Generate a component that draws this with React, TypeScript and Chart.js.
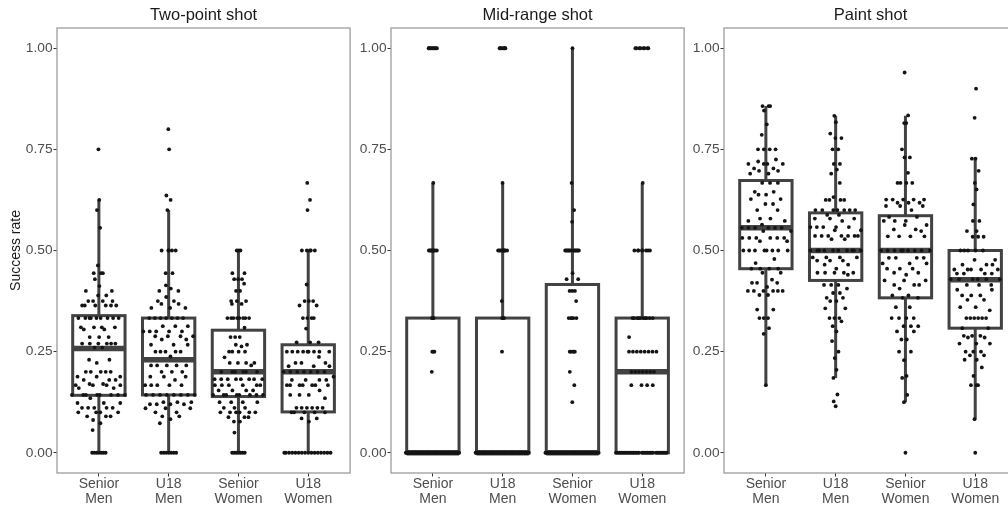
import React, { useEffect, useRef } from "react";
import { Chart, registerables } from "chart.js";

Chart.register(...registerables);

// ---------- text ----------
const categories: string[][] = [
  ["Senior", "Men"],
  ["U18", "Men"],
  ["Senior", "Women"],
  ["U18", "Women"],
];
const panelTitles = ["Two-point shot", "Mid-range shot", "Paint shot"];
const yAxisTitle = "Success rate";
const yTicks = [0, 0.25, 0.5, 0.75, 1];

// ---------- observations: [success rate, number of players] ----------
const twoPointSeniorMen: [number, number][] = [
  [0.75, 1], [0.625, 1], [0.6, 1], [0.556, 1], [0.463, 1], [0.444, 3], [0.429, 1], [0.412, 1],
  [0.4, 2], [0.389, 2], [0.375, 4], [0.364, 6], [0.333, 9], [0.31, 4], [0.305, 2], [0.286, 3],
  [0.27, 6], [0.26, 2], [0.23, 2], [0.222, 1], [0.2, 5], [0.188, 3], [0.18, 3], [0.17, 2],
  [0.167, 4], [0.16, 2], [0.143, 8], [0.135, 1], [0.123, 3], [0.111, 5], [0.1, 4], [0.09, 3],
  [0.081, 1], [0.073, 1], [0.056, 1], [0, 7],
];
const twoPointU18Men: [number, number][] = [
  [0.8, 1], [0.75, 1], [0.636, 1], [0.625, 1], [0.6, 1], [0.5, 5], [0.444, 2], [0.414, 1],
  [0.406, 1], [0.4, 2], [0.385, 1], [0.375, 2], [0.368, 2], [0.358, 3], [0.333, 7], [0.313, 3],
  [0.3, 5], [0.288, 4], [0.28, 2], [0.267, 3], [0.25, 5], [0.238, 1], [0.216, 5], [0.2, 3],
  [0.188, 3], [0.18, 1], [0.167, 5], [0.143, 8], [0.125, 3], [0.12, 4], [0.11, 3], [0.1, 2],
  [0.09, 2], [0.083, 1], [0.073, 1], [0, 7],
];
const twoPointSeniorWomen: [number, number][] = [
  [0.5, 3], [0.444, 2], [0.429, 3], [0.418, 1], [0.4, 2], [0.375, 3], [0.368, 2], [0.333, 8],
  [0.309, 1], [0.286, 3], [0.267, 2], [0.263, 1], [0.25, 4], [0.236, 1], [0.222, 4], [0.216, 1],
  [0.2, 6], [0.182, 8], [0.167, 6], [0.154, 4], [0.143, 8], [0.125, 4], [0.111, 3], [0.1, 6],
  [0.088, 3], [0.077, 2], [0.05, 1], [0, 7],
];
const twoPointU18Women: [number, number][] = [
  [0.667, 1], [0.625, 1], [0.6, 1], [0.5, 5], [0.416, 1], [0.375, 3], [0.364, 2], [0.333, 4],
  [0.307, 1], [0.273, 3], [0.25, 9], [0.237, 1], [0.222, 3], [0.214, 3], [0.2, 7], [0.188, 1],
  [0.18, 4], [0.167, 7], [0.154, 1], [0.143, 3], [0.135, 1], [0.111, 6], [0.1, 5], [0.085, 2],
  [0.077, 1], [0, 16],
];

const midSeniorMen: [number, number][] = [
  [1, 9], [0.667, 1], [0.5, 8], [0.333, 3], [0.25, 3], [0.2, 1], [0, 55],
];
const midU18Men: [number, number][] = [
  [1, 7], [0.667, 1], [0.5, 9], [0.375, 1], [0.333, 3], [0.25, 1], [0, 55],
];
const midSeniorWomen: [number, number][] = [
  [1, 1], [0.667, 1], [0.6, 1], [0.571, 1], [0.5, 12], [0.444, 1], [0.429, 2], [0.4, 3],
  [0.375, 1], [0.333, 5], [0.25, 5], [0.2, 1], [0.167, 1], [0.125, 1], [0, 45],
];
const midU18Women: [number, number][] = [
  [1, 8], [0.667, 1], [0.5, 8], [0.333, 10], [0.286, 1], [0.25, 8], [0.2, 7], [0.167, 4], [0, 28],
];

const paintSeniorMen: [number, number][] = [
  [0.857, 3], [0.846, 1], [0.812, 1], [0.786, 1], [0.75, 4], [0.725, 1], [0.72, 1], [0.714, 4],
  [0.703, 2], [0.697, 2], [0.69, 2], [0.667, 3], [0.645, 2], [0.638, 2], [0.627, 2], [0.615, 2],
  [0.6, 2], [0.579, 2], [0.573, 2], [0.564, 1], [0.556, 6], [0.548, 2], [0.531, 6], [0.523, 2],
  [0.5, 8], [0.479, 1], [0.469, 1], [0.455, 4], [0.445, 2], [0.428, 1], [0.42, 3], [0.41, 1],
  [0.4, 6], [0.39, 2], [0.354, 2], [0.333, 3], [0.308, 1], [0.294, 1], [0.167, 1],
];
const paintU18Men: [number, number][] = [
  [0.833, 1], [0.817, 1], [0.789, 1], [0.778, 2], [0.75, 2], [0.714, 2], [0.7, 1], [0.69, 1],
  [0.667, 1], [0.632, 1], [0.625, 4], [0.6, 7], [0.588, 2], [0.579, 3], [0.573, 1], [0.558, 5],
  [0.55, 2], [0.536, 7], [0.528, 2], [0.5, 10], [0.483, 4], [0.475, 3], [0.465, 2], [0.455, 1],
  [0.445, 5], [0.44, 1], [0.415, 3], [0.406, 1], [0.395, 2], [0.383, 2], [0.375, 2], [0.357, 2],
  [0.333, 3], [0.325, 1], [0.313, 1], [0.3, 1], [0.276, 1], [0.25, 1], [0.234, 1], [0.205, 1],
  [0.185, 1], [0.144, 1], [0.127, 1], [0.115, 1],
];
const paintSeniorWomen: [number, number][] = [
  [0.94, 1], [0.834, 1], [0.815, 2], [0.75, 1], [0.73, 2], [0.692, 1], [0.667, 4], [0.626, 5],
  [0.618, 3], [0.61, 3], [0.6, 1], [0.583, 2], [0.573, 3], [0.563, 2], [0.552, 2], [0.548, 1],
  [0.535, 4], [0.5, 9], [0.482, 4], [0.468, 3], [0.455, 3], [0.445, 2], [0.44, 1], [0.426, 3],
  [0.415, 3], [0.406, 1], [0.389, 2], [0.383, 2], [0.36, 2], [0.333, 4], [0.313, 3], [0.3, 2],
  [0.28, 2], [0.25, 2], [0.229, 1], [0.19, 1], [0.185, 1], [0.143, 1], [0.125, 1], [0, 1],
];
const paintU18Women: [number, number][] = [
  [0.9, 1], [0.828, 1], [0.727, 2], [0.697, 1], [0.667, 1], [0.651, 1], [0.614, 1], [0.573, 2],
  [0.548, 2], [0.534, 3], [0.5, 5], [0.477, 2], [0.465, 3], [0.453, 5], [0.443, 4], [0.429, 6],
  [0.415, 3], [0.403, 2], [0.389, 3], [0.378, 2], [0.36, 2], [0.352, 1], [0.333, 6], [0.308, 2],
  [0.289, 3], [0.285, 2], [0.27, 3], [0.25, 3], [0.241, 2], [0.23, 2], [0.211, 1], [0.19, 1],
  [0.167, 3], [0.083, 1], [0, 1],
];

// ---------- box statistics (Senior Men, U18 Men, Senior Women, U18 Women) ----------
const twoPointQ1 = [0.142, 0.143, 0.139, 0.101];
const twoPointMedian = [0.258, 0.23, 0.2, 0.2];
const twoPointQ3 = [0.339, 0.333, 0.303, 0.267];
const twoPointLow = [0, 0, 0, 0];
const twoPointHigh = [0.625, 0.6, 0.5, 0.5];

const midQ1 = [0, 0, 0, 0];
const midMedian = [0, 0, 0, 0.2];
const midQ3 = [0.333, 0.333, 0.416, 0.333];
const midLow = [0, 0, 0, 0];
const midHigh = [0.667, 0.667, 1, 0.667];

const paintQ1 = [0.455, 0.426, 0.383, 0.308];
const paintMedian = [0.556, 0.5, 0.5, 0.428];
const paintQ3 = [0.673, 0.593, 0.586, 0.5];
const paintLow = [0.167, 0.185, 0.125, 0.083];
const paintHigh = [0.857, 0.833, 0.833, 0.727];

const panels = [
  {
    groups: [twoPointSeniorMen, twoPointU18Men, twoPointSeniorWomen, twoPointU18Women],
    stats: { q1: twoPointQ1, med: twoPointMedian, q3: twoPointQ3, lo: twoPointLow, hi: twoPointHigh },
  },
  {
    groups: [midSeniorMen, midU18Men, midSeniorWomen, midU18Women],
    stats: { q1: midQ1, med: midMedian, q3: midQ3, lo: midLow, hi: midHigh },
  },
  {
    groups: [paintSeniorMen, paintU18Men, paintSeniorWomen, paintU18Women],
    stats: { q1: paintQ1, med: paintMedian, q3: paintQ3, lo: paintLow, hi: paintHigh },
  },
];

// ---------- quasirandom (beeswarm-like) horizontal layout ----------
function vdc(n: number) {
  let v = 0;
  let denom = 1;
  while (n > 0) {
    denom *= 2;
    v += (n % 2) / denom;
    n = Math.floor(n / 2);
  }
  return v;
}
function quantile(s: number[], p: number) {
  const h = (s.length - 1) * p;
  const lo = Math.floor(h);
  const hi = Math.ceil(h);
  return s[lo] + (h - lo) * (s[hi] - s[lo]);
}
function layoutGroup(pairs: [number, number][], center: number, halfWidth: number, adjust: number) {
  const s: number[] = [];
  pairs.forEach(([v, c]) => {
    for (let i = 0; i < c; i++) s.push(v);
  });
  s.sort((a, b) => a - b);
  const n = s.length;
  const mean = s.reduce((a, b) => a + b, 0) / n;
  const sd = Math.sqrt(s.reduce((a, b) => a + (b - mean) * (b - mean), 0) / (n - 1));
  const iqr = quantile(s, 0.75) - quantile(s, 0.25);
  let spread = Math.min(sd, iqr / 1.34);
  if (!(spread > 0)) spread = sd > 0 ? sd : 1;
  const bw = 0.9 * spread * Math.pow(n, -0.2) * adjust;
  const dens = s.map((y) => s.reduce((acc, v) => acc + Math.exp(-0.5 * ((y - v) / bw) ** 2), 0));
  const maxD = Math.max(...dens);
  return s.map((y, i) => ({ x: center + (vdc(i + 1) - 0.5) * 2 * halfWidth * (dens[i] / maxD), y }));
}

const FONT = "'Liberation Sans', Arial, Helvetica, sans-serif";

const boxPlugin = {
  id: "boxplot",
  beforeDatasetsDraw(chart: any, _args: any, opts: any) {
    const { ctx, scales } = chart;
    const x = scales.x;
    const y = scales.y;
    ctx.save();
    ctx.strokeStyle = "#424242";
    ctx.lineCap = "butt";
    ctx.lineJoin = "miter";
    for (let i = 0; i < 4; i++) {
      const c = i + 1;
      const cx = x.getPixelForValue(c);
      const xl = x.getPixelForValue(c - 0.375);
      const xr = x.getPixelForValue(c + 0.375);
      const yq1 = y.getPixelForValue(opts.q1[i]);
      const yq3 = y.getPixelForValue(opts.q3[i]);
      const ymed = y.getPixelForValue(opts.med[i]);
      const ylo = y.getPixelForValue(opts.lo[i]);
      const yhi = y.getPixelForValue(opts.hi[i]);
      ctx.lineWidth = 3;
      ctx.beginPath();
      ctx.moveTo(cx, yhi);
      ctx.lineTo(cx, yq3);
      ctx.moveTo(cx, yq1);
      ctx.lineTo(cx, ylo);
      ctx.stroke();
      ctx.fillStyle = "#ffffff";
      ctx.fillRect(xl, yq3, xr - xl, yq1 - yq3);
      ctx.strokeRect(xl, yq3, xr - xl, yq1 - yq3);
      ctx.lineWidth = 5.5;
      ctx.beginPath();
      ctx.moveTo(xl, ymed);
      ctx.lineTo(xr, ymed);
      ctx.stroke();
    }
    ctx.restore();
  },
  afterDraw(chart: any) {
    const { ctx, chartArea: a } = chart;
    ctx.save();
    ctx.strokeStyle = "#9c9c9c";
    ctx.lineWidth = 1.3;
    ctx.strokeRect(a.left, a.top, a.right - a.left, a.bottom - a.top);
    ctx.restore();
  },
};

function makeConfig(idx: number, yWidth: number): any {
  const panel = panels[idx];
  const points = panel.groups.flatMap((g, gi) => layoutGroup(g, gi + 1, 0.4, 0.5));
  return {
    type: "scatter",
    data: {
      datasets: [
        {
          data: points,
          pointRadius: 1.9,
          pointHoverRadius: 1.9,
          backgroundColor: "#141414",
          borderWidth: 0,
        },
      ],
    },
    options: {
      responsive: false,
      animation: false,
      events: [],
      layout: { padding: { top: 2.2, right: 1, left: 0, bottom: 0 } },
      plugins: {
        legend: { display: false },
        tooltip: { enabled: false },
        title: {
          display: true,
          text: panelTitles[idx],
          fullSize: false,
          color: "#1a1a1a",
          font: { family: FONT, size: 16.5, weight: "normal", lineHeight: 1.2 },
          padding: { top: 3, bottom: 3 },
        },
        boxplot: panel.stats,
      },
      scales: {
        x: {
          type: "linear",
          min: 0.4,
          max: 4.6,
          afterBuildTicks: (s: any) => {
            s.ticks = [1, 2, 3, 4].map((v) => ({ value: v }));
          },
          afterFit: (s: any) => {
            s.height = 35;
          },
          border: { display: false },
          grid: { drawOnChartArea: false, drawTicks: true, tickLength: 3.5, color: "#333333", lineWidth: 1 },
          ticks: {
            callback: (v: number) => categories[Math.round(v) - 1],
            color: "#4d4d4d",
            font: { family: FONT, size: 14, lineHeight: 1.1 },
            padding: 0,
            maxRotation: 0,
            minRotation: 0,
            autoSkip: false,
          },
        },
        y: {
          type: "linear",
          min: -0.05,
          max: 1.05,
          afterBuildTicks: (s: any) => {
            s.ticks = yTicks.map((v) => ({ value: v }));
          },
          afterFit: (s: any) => {
            s.width = yWidth;
          },
          border: { display: false },
          grid: { drawOnChartArea: false, drawTicks: true, tickLength: 3.5, color: "#333333", lineWidth: 1 },
          ticks: {
            callback: (v: number) => v.toFixed(2),
            color: "#4d4d4d",
            font: { family: FONT, size: 13.7 },
            padding: 1,
          },
          title: {
            display: idx === 0,
            text: yAxisTitle,
            color: "#1a1a1a",
            font: { family: FONT, size: 14, lineHeight: 1.2 },
            padding: { top: 8, bottom: 0 },
          },
        },
      },
    },
    plugins: [boxPlugin],
  };
}

function Panel({ idx, left, width, yWidth }: { idx: number; left: number; width: number; yWidth: number }) {
  const ref = useRef<HTMLCanvasElement>(null);
  useEffect(() => {
    const chart = new Chart(ref.current as HTMLCanvasElement, makeConfig(idx, yWidth));
    return () => chart.destroy();
  }, [idx, yWidth]);
  return (
    <canvas
      ref={ref}
      width={width}
      height={508}
      style={{ position: "absolute", left, top: 0, width, height: 508 }}
    />
  );
}

export default function App() {
  return (
    <div
      style={{
        position: "fixed",
        left: 0,
        top: 0,
        width: 1008,
        height: 508,
        overflow: "hidden",
        background: "#ffffff",
      }}
    >
      <Panel idx={0} left={0} width={352} yWidth={57} />
      <Panel idx={1} left={352} width={334} yWidth={39} />
      <Panel idx={2} left={686} width={333} yWidth={38} />
    </div>
  );
}
